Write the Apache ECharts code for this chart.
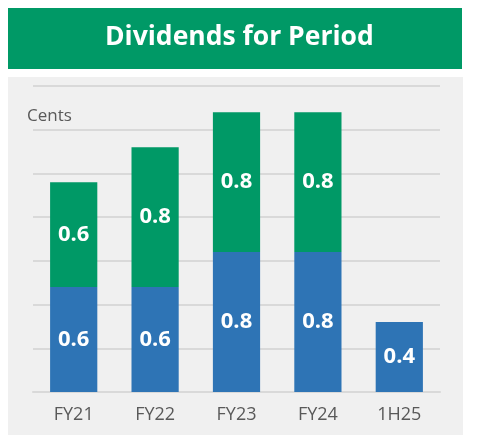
<!DOCTYPE html>
<html>
<head>
<meta charset="utf-8">
<script src="https://cdn.jsdelivr.net/npm/echarts@6/dist/echarts.min.js"></script>
<style>
  html, body { margin: 0; padding: 0; background: #fff; }
  #main { width: 487px; height: 435px; }
</style>
</head>
<body>
<div id="main"></div>
<script>
// data
var categories = ['FY21', 'FY22', 'FY23', 'FY24', '1H25'];
var interimDiv = [0.6, 0.6, 0.8, 0.8, 0.4];
var finalDiv = [0.6, 0.8, 0.8, 0.8, null];

var green = '#009966';
var blue = '#2E74B5';

var myChart = echarts.init(document.getElementById('main'));
myChart.setOption({
    animation: false,
    textStyle: { fontFamily: 'Open Sans' },
    graphic: [
        { type: 'rect', z: -10, shape: { x: 8, y: 8, width: 454, height: 61 }, style: { fill: green } },
        { type: 'rect', z: -10, shape: { x: 8, y: 77, width: 455, height: 358 }, style: { fill: '#f0f0f0' } },
        {
            type: 'text', left: 27, top: 108,
            style: { text: 'Cents', fill: '#595959', font: '17px "Open Sans"' }
        }
    ],
    title: {
        text: 'Dividends for Period',
        left: 100,
        top: 19,
        textStyle: { color: '#fff', fontSize: 26.5, fontWeight: 'bold', fontFamily: 'Open Sans' }
    },
    grid: { left: 33, right: 47, top: 86, bottom: 43 },
    xAxis: {
        type: 'category',
        data: categories,
        axisTick: { show: false },
        axisLine: { lineStyle: { color: '#d9d9d9', width: 2 } },
        axisLabel: { color: '#595959', fontSize: 18, margin: 14 }
    },
    yAxis: {
        type: 'value',
        min: 0,
        max: 1.75,
        interval: 0.25,
        axisLabel: { show: false },
        splitLine: { lineStyle: { color: '#d9d9d9', width: 2 } }
    },
    series: [
        {
            name: 'Interim',
            type: 'bar',
            stack: 'div',
            barWidth: '58%',
            data: interimDiv,
            itemStyle: { color: blue },
            label: { show: true, position: 'inside', color: '#fff', fontSize: 22, fontWeight: 'bold' }
        },
        {
            name: 'Final',
            type: 'bar',
            stack: 'div',
            barWidth: '58%',
            data: finalDiv,
            itemStyle: { color: green },
            label: { show: true, position: 'inside', color: '#fff', fontSize: 22, fontWeight: 'bold' }
        }
    ]
});
</script>
</body>
</html>
